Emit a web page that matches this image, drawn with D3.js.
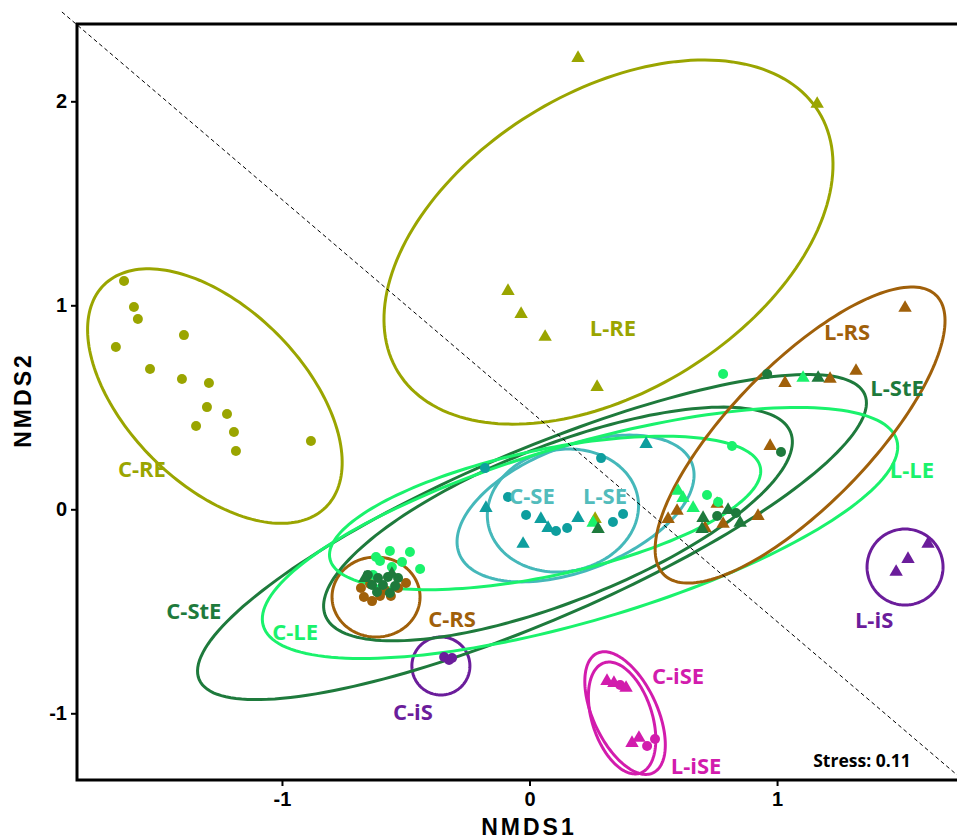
<!DOCTYPE html>
<html>
<head>
<meta charset="utf-8">
<script src="https://cdn.jsdelivr.net/npm/d3@7"></script>
<style>
  html, body { margin: 0; padding: 0; background: #fff; }
  svg { display: block; }
</style>
</head>
<body>
<svg id="chart" width="957" height="840"></svg>
<script>
// ---------------- DATA ----------------
const xTicks = [-1, 0, 1];
const yTicks = [-1, 0, 1, 2];
const xTitle = "NMDS1";
const yTitle = "NMDS2";
const stressText = "Stress: 0.11";
const stressPos = [1.343, -1.229];

// points [NMDS1, NMDS2]
const cRE = [[-1.638,1.119],[-1.598,0.992],[-1.582,0.933],[-1.396,0.854],[-1.671,0.796],[-1.533,0.688],[-1.404,0.639],[-1.295,0.619],[-1.303,0.501],[-1.222,0.467],[-1.347,0.408],[-1.194,0.379],[-1.186,0.286],[-0.883,0.335]];
const lRE = [[0.196,2.217],[1.162,1.992],[-0.087,1.075],[-0.034,0.962],[0.063,0.850],[0.273,0.604],[0.265,-0.043]];
const cRS = [[-0.681,-0.386],[-0.669,-0.430],[-0.636,-0.450],[-0.604,-0.425],[-0.560,-0.425],[-0.531,-0.386],[-0.499,-0.361],[-0.644,-0.366],[-0.584,-0.396]];
const lRS = [[1.517,0.992],[1.319,0.683],[1.214,0.644],[1.032,0.624],[0.972,0.315],[0.560,-0.043],[0.596,-0.003],[0.758,0.031],[0.782,-0.067],[0.923,-0.028],[0.709,-0.087]];
const cStE = [[-0.653,-0.322],[-0.612,-0.337],[-0.572,-0.332],[-0.531,-0.337],[-0.636,-0.371],[-0.592,-0.371],[-0.543,-0.376],[-0.616,-0.405],[-0.564,-0.410],[0.960,0.663],[1.016,0.281],[0.758,-0.033],[0.834,-0.018]];
const lStE = [[1.166,0.649],[0.701,-0.038],[0.697,-0.092],[0.802,0.001],[0.851,-0.062],[0.277,-0.092],[-0.665,-0.332],[-0.556,-0.312]];
const cLE = [[-0.564,-0.204],[-0.483,-0.209],[-0.442,-0.293],[-0.632,-0.322],[-0.604,-0.253],[-0.556,-0.283],[-0.515,-0.258],[-0.620,-0.234],[0.782,0.663],[0.818,0.310],[0.717,0.070],[0.762,0.036]];
const lLE = [[0.600,0.095],[0.620,0.060],[0.661,0.011],[1.105,0.649],[0.257,-0.062]];
const cSE = [[-0.180,0.202],[0.289,0.251],[-0.087,0.060],[-0.014,-0.028],[0.107,-0.106],[0.152,-0.092],[0.337,-0.062],[0.378,-0.023]];
const lSE = [[-0.176,0.011],[0.046,-0.043],[0.075,-0.087],[0.196,-0.038],[-0.026,-0.165],[0.471,0.325]];
const cIS = [[-0.345,-0.724],[-0.325,-0.739],[-0.313,-0.729]];
const lIS = [[1.481,-0.302],[1.529,-0.239],[1.610,-0.165]];
const cISE = [[0.366,-0.861],[0.475,-1.160],[0.507,-1.126]];
const lISE = [[0.313,-0.837],[0.341,-0.847],[0.390,-0.871],[0.414,-1.141],[0.442,-1.116]];

// ellipses: centre, and two conjugate half-axis vectors (data units)
const ellipseGroup  = ["C-RE","L-RE","C-SE","L-SE","C-RS","C-iS","L-iS","C-iSE","L-iSE","C-StE","L-StE","C-LE","L-LE","L-RS"];
const ellipseCenter = [[-1.271,0.555],[0.319,1.310],[0.186,0.004],[0.135,-0.006],[-0.620,-0.430],[-0.358,-0.768],[1.517,-0.283],[0.386,-0.999],[0.374,-1.023],[0.010,-0.136],[0.115,-0.072],[0.204,-0.116],[0.063,-0.018],[1.093,0.364]];
const ellipseAxisU  = [[0.4486,-0.5442],[0.8492,0.6389],[0.4701,0.2212],[0.3024,0.0647],[0.1778,0],[0.1172,0],[0.1535,0],[0.1127,-0.2932],[0.0724,-0.2704],[1.3443,0.6990],[0.9398,0.4491],[1.2795,0.4554],[0.8694,0.2242],[0.5493,0.6853]];
const ellipseAxisV  = [[-0.2514,-0.3050],[0.3185,-0.6233],[0.0907,-0.2838],[0.0428,-0.2945],[0,-0.1961],[0,-0.1422],[0,-0.1863],[-0.1172,-0.0663],[-0.1153,-0.0454],[0.1353,-0.3830],[0.1155,-0.3557],[0.1001,-0.4139],[0.0529,-0.3021],[0.2028,-0.2392]];

// group labels
const labelText = ["C-RE","L-RE","L-RS","L-StE","L-LE","C-SE","L-SE","C-StE","C-LE","C-RS","C-iS","L-iS","C-iSE","L-iSE"];
const labelPos  = [[-1.566,0.202],[0.337,0.893],[1.283,0.874],[1.485,0.600],[1.545,0.198],[0.010,0.070],[0.305,0.070],[-1.356,-0.492],[-0.947,-0.595],[-0.313,-0.533],[-0.471,-0.987],[1.392,-0.538],[0.600,-0.811],[0.673,-1.253]];

// dashed reference line (two end points)
const refLine = [[-1.889,2.438],[1.75,-1.326]];

// ---------------- STYLE ----------------
const col = {
  RE: "#9AA500", RS: "#A0600A", StE: "#1E7A3C", LE: "#1AF26C",
  SEline: "#45B8BA", SEpt: "#0E9E9E", SElab: "#52BCBC", iS: "#6B1D9B", iSE: "#D21CAD"
};
const groupColor = {
  "C-RE": col.RE, "L-RE": col.RE, "C-RS": col.RS, "L-RS": col.RS,
  "C-StE": col.StE, "L-StE": col.StE, "C-LE": col.LE, "L-LE": col.LE,
  "C-SE": col.SEline, "L-SE": col.SEline, "C-iS": col.iS, "L-iS": col.iS,
  "C-iSE": col.iSE, "L-iSE": col.iSE
};
const labelColor = Object.assign({}, groupColor, {"C-SE": col.SElab, "L-SE": col.SElab});

// ---------------- CHART ----------------
const svg = d3.select("#chart");
const x = d3.scaleLinear().domain([-1.828, 1.739]).range([77, 960]);
const y = d3.scaleLinear().domain([-1.327, 2.379]).range([780, 24]);

// ellipses
const line = d3.line().x(d => x(d[0])).y(d => y(d[1])).curve(d3.curveLinearClosed);
const tt = d3.range(0, 2 * Math.PI, Math.PI / 90);
ellipseGroup.forEach((g, i) => {
  const c = ellipseCenter[i], u = ellipseAxisU[i], v = ellipseAxisV[i];
  const pts = tt.map(t => [c[0] + u[0] * Math.cos(t) + v[0] * Math.sin(t),
                           c[1] + u[1] * Math.cos(t) + v[1] * Math.sin(t)]);
  svg.append("path").attr("d", line(pts)).attr("fill", "none")
    .attr("stroke", groupColor[g]).attr("stroke-width", 3);
});

// dashed line
svg.append("line")
  .attr("x1", x(refLine[0][0])).attr("y1", y(refLine[0][1]))
  .attr("x2", x(refLine[1][0])).attr("y2", y(refLine[1][1]))
  .attr("stroke", "#000").attr("stroke-width", 1).attr("stroke-dasharray", "4,3");

// points
const tri = d3.symbol().type(d3.symbolTriangle).size(78);
function circles(data, color) {
  svg.append("g").selectAll("circle").data(data).join("circle")
    .attr("cx", d => x(d[0])).attr("cy", d => y(d[1])).attr("r", 5).attr("fill", color);
}
function triangles(data, color) {
  svg.append("g").selectAll("path").data(data).join("path")
    .attr("d", tri).attr("transform", d => `translate(${x(d[0])},${y(d[1]) + 1})`).attr("fill", color);
}
circles(cRE, col.RE); triangles(lRE, col.RE);
circles(cRS, col.RS); triangles(lRS, col.RS);
circles(cLE, col.LE); triangles(lLE, col.LE);
circles(cStE, col.StE); triangles(lStE, col.StE);
circles(cSE, col.SEpt); triangles(lSE, col.SEpt);
circles(cIS, col.iS); triangles(lIS, col.iS);
circles(cISE, col.iSE); triangles(lISE, col.iSE);

// labels
svg.append("g").selectAll("text").data(labelText).join("text")
  .attr("x", (d, i) => x(labelPos[i][0])).attr("y", (d, i) => y(labelPos[i][1]))
  .attr("text-anchor", "middle").attr("dominant-baseline", "central")
  .attr("font-family", "'Open Sans', sans-serif").attr("font-weight", 700).attr("font-size", 22)
  .attr("fill", d => labelColor[d]).text(d => d);

svg.append("text").attr("x", x(stressPos[0])).attr("y", y(stressPos[1]))
  .attr("text-anchor", "middle").attr("dominant-baseline", "central")
  .attr("font-family", "'Open Sans', sans-serif").attr("font-weight", 700).attr("font-size", 17.5)
  .attr("fill", "#000").text(stressText);

// frame
svg.append("rect").attr("x", 77).attr("y", 24).attr("width", 900).attr("height", 756)
  .attr("fill", "none").attr("stroke", "#000").attr("stroke-width", 3);

// axes
const fmt = d => String(d);
const ax = svg.append("g").attr("transform", "translate(0,780)")
  .call(d3.axisBottom(x).tickValues(xTicks).tickSize(6).tickPadding(6).tickFormat(fmt));
const ay = svg.append("g").attr("transform", "translate(77,0)")
  .call(d3.axisLeft(y).tickValues(yTicks).tickSize(6).tickPadding(4).tickFormat(fmt));
[ax, ay].forEach(a => {
  a.select(".domain").remove();
  a.selectAll(".tick line").attr("stroke", "#000").attr("stroke-width", 2);
  a.selectAll(".tick text").attr("font-family", "'Liberation Sans', Arial, sans-serif")
    .attr("font-weight", 700).attr("font-size", 20).attr("fill", "#000");
});

svg.append("text").attr("x", 529).attr("y", 835).attr("text-anchor", "middle")
  .attr("font-family", "'Liberation Sans', Arial, sans-serif").attr("font-weight", 700)
  .attr("font-size", 23).attr("letter-spacing", 3).text(xTitle);
svg.append("text").attr("transform", "translate(31,400) rotate(-90)").attr("text-anchor", "middle")
  .attr("font-family", "'Liberation Sans', Arial, sans-serif").attr("font-weight", 700)
  .attr("font-size", 23).attr("letter-spacing", 3).text(yTitle);
</script>
</body>
</html>
